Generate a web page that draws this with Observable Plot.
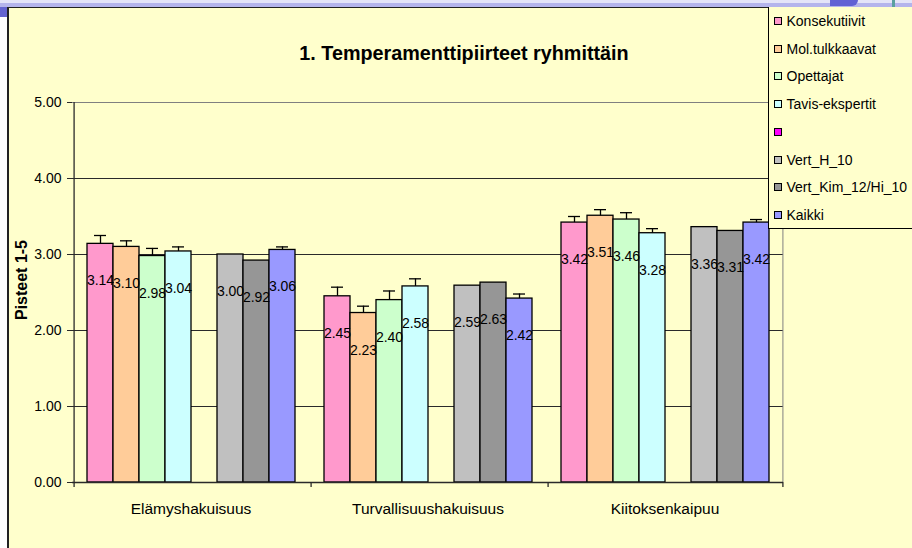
<!DOCTYPE html>
<html>
<head>
<meta charset="utf-8">
<script src="https://cdn.jsdelivr.net/npm/d3@7"></script>
<script src="https://cdn.jsdelivr.net/npm/@observablehq/plot@0.6"></script>
<style>
  body { margin: 0; background: #fff; }
  #page { position: relative; width: 912px; height: 548px; overflow: hidden; background: #fff;
          font-family: "Liberation Sans", Arial, sans-serif; color: #000; }
  #band1 { position: absolute; left: 0; top: 0; width: 912px; height: 3px; background: #e4e4f8; }
  #band2 { position: absolute; left: 0; top: 3px; width: 912px; height: 4px; background: #b4b4ec; }
  #blob { position: absolute; left: 830px; top: 0; width: 28px; height: 6px; background: #6262d4; border-radius: 0 0 10px 0; }
  #teal { position: absolute; left: 892px; top: 0; width: 3px; height: 8px; background: #5aa0a0; }
  #leftblock { position: absolute; left: 0; top: 7px; width: 7px; height: 10px; background: #6464d0; }
  #chartbg { position: absolute; left: 7px; top: 7px; width: 1000px; height: 600px; background: #FFFFCC;
             border-left: 2px solid #222; border-top: 1.5px solid #222; }
  #plot { position: absolute; left: 0; top: 0; }
  #title { position: absolute; left: 0; width: 928px; top: 43px; text-align: center; font-weight: bold;
           font-size: 19.8px; line-height: 20px; white-space: nowrap; }
  #ylabel { position: absolute; left: 22px; top: 280px; transform: translate(-50%, -50%) rotate(-90deg);
            font-weight: bold; font-size: 16px; line-height: 16px; white-space: nowrap; }
  #legend { position: absolute; left: 768px; top: 7px; width: 200px; height: 221px; background: #FFFFCC;
            border-left: 1.5px solid #000; border-bottom: 1.5px solid #000; }
  .sw { position: absolute; width: 6px; height: 6px; border: 1px solid #000; }
  .lt { position: absolute; font-size: 14px; line-height: 16px; white-space: nowrap; }
</style>
</head>
<body>
<div id="page">
  <div id="band1"></div>
  <div id="band2"></div>
  <div id="blob"></div>
  <div id="teal"></div>
  <div id="leftblock"></div>
  <div id="chartbg"></div>
  <div id="plot"></div>
  <div id="title">1. Temperamenttipiirteet ryhmittäin</div>
  <div id="ylabel">Pisteet 1-5</div>
  <div id="legend"></div>
</div>
<script>
// ---- data ----
const categories = ["Elämyshakuisuus", "Turvallisuushakuisuus", "Kiitoksenkaipuu"];
const series = ["Konsekutiivit", "Mol.tulkkaavat", "Opettajat", "Tavis-ekspertit", "", "Vert_H_10", "Vert_Kim_12/Hi_10", "Kaikki"];
const colors = ["#FF99CC", "#FFCC99", "#CCFFCC", "#CCFFFF", "#FF00FF", "#C0C0C0", "#969696", "#9999FF"];
const yTicks = [0, 1, 2, 3, 4, 5];

const konsekutiivit = [3.14, 2.45, 3.42];
const molTulkkaavat = [3.10, 2.23, 3.51];
const opettajat = [2.98, 2.40, 3.46];
const tavisEkspertit = [3.04, 2.58, 3.28];
const vertH10 = [3.00, 2.59, 3.36];
const vertKim12Hi10 = [2.92, 2.63, 3.31];
const kaikki = [3.06, 2.42, 3.42];

const konsekutiivitErr = [0.11, 0.12, 0.08];
const molTulkkaavatErr = [0.08, 0.09, 0.08];
const opettajatErr = [0.10, 0.12, 0.09];
const tavisEkspertitErr = [0.06, 0.10, 0.06];
const kaikkiErr = [0.04, 0.06, 0.04];

// ---- table ----
const valuesBySeries = [konsekutiivit, molTulkkaavat, opettajat, tavisEkspertit, null, vertH10, vertKim12Hi10, kaikki];
const errBySeries = [konsekutiivitErr, molTulkkaavatErr, opettajatErr, tavisEkspertitErr, null, null, null, kaikkiErr];
const rows = [];
series.forEach((s, si) => {
  const v = valuesBySeries[si];
  if (!v) return;
  categories.forEach((c, ci) => rows.push({
    category: c, series: s, value: v[ci],
    err: errBySeries[si] ? errBySeries[si][ci] : null
  }));
});
const errRows = rows.filter(d => d.err != null);

// ---- layout ----
const W = 912, H = 548, mL = 71, mR = 128, mT = 102, mB = 66;
const step = (W - mL - mR) / (categories.length * (series.length + 1));
const plotH = H - mT - mB;
const font = "'Liberation Sans', Arial, sans-serif";

const leftEdges = categories.map(c => ({c, s: series[0]}));
const lastEdge = [{c: categories[categories.length - 1], s: series[series.length - 1]}];

const chart = Plot.plot({
  width: W, height: H,
  marginLeft: mL, marginRight: mR, marginTop: mT, marginBottom: mB,
  style: {background: "transparent", fontFamily: font, fontSize: "14px", color: "#000", overflow: "visible"},
  fx: {domain: categories, padding: 0, axis: null},
  x: {domain: series, paddingInner: 0, paddingOuter: 0.5, axis: null},
  y: {domain: [0, 5], axis: null},
  color: {domain: series, range: colors},
  marks: [
    Plot.ruleY([1, 2, 3, 4], {stroke: "#2a2a2a", strokeWidth: 1}),
    Plot.ruleY([5], {stroke: "#808080", strokeWidth: 1}),
    Plot.ruleX(lastEdge, {fx: "c", x: "s", dx: step, stroke: "#808080", strokeWidth: 1}),
    Plot.barY(rows, {fx: "category", x: "series", y: "value", fill: "series", stroke: "#000", strokeWidth: 1.3}),
    Plot.ruleX(errRows, {fx: "category", x: "series", y1: "value", y2: d => d.value + d.err, stroke: "#000", strokeWidth: 1.3}),
    Plot.tickY(errRows, {fx: "category", x: "series", y: d => d.value + d.err, insetLeft: 7, insetRight: 7, stroke: "#000", strokeWidth: 1.3}),
    Plot.text(rows, {fx: "category", x: "series", y: "value", text: d => d.value.toFixed(2), dy: 37, fontSize: 14, fill: "#000"}),
    Plot.ruleY([0], {stroke: "#2a2a2a", strokeWidth: 1.3}),
    Plot.ruleX([leftEdges[0]], {fx: "c", x: "s", dx: -step, stroke: "#2a2a2a", strokeWidth: 1.3}),
    Plot.ruleX(leftEdges, {fx: "c", x: "s", dx: -step, insetTop: plotH, insetBottom: -5, stroke: "#2a2a2a", strokeWidth: 1.3}),
    Plot.ruleX(lastEdge, {fx: "c", x: "s", dx: step, insetTop: plotH, insetBottom: -5, stroke: "#2a2a2a", strokeWidth: 1.3}),
    Plot.axisY({ticks: yTicks, tickFormat: d3.format(".2f"), tickSize: 5, tickPadding: 6, fontSize: 14, label: null, stroke: "#2a2a2a"}),
    Plot.axisFx({anchor: "bottom", tickSize: 0, tickPadding: 20, fontSize: 15.5, label: null, style: {letterSpacing: "0.6px"}})
  ]
});
document.getElementById("plot").appendChild(chart);

// ---- legend ----
const legend = document.getElementById("legend");
series.forEach((s, i) => {
  const cy = 21 + i * 27.7 - 7;
  const sw = document.createElement("div");
  sw.className = "sw";
  sw.style.left = (774 - 768 - 1.5) + "px";
  sw.style.top = (cy - 4) + "px";
  sw.style.background = colors[i];
  legend.appendChild(sw);
  const t = document.createElement("div");
  t.className = "lt";
  t.style.left = (787 - 768 - 1.5) + "px";
  t.style.top = (cy - 8) + "px";
  t.textContent = s;
  legend.appendChild(t);
});
</script>
</body>
</html>
